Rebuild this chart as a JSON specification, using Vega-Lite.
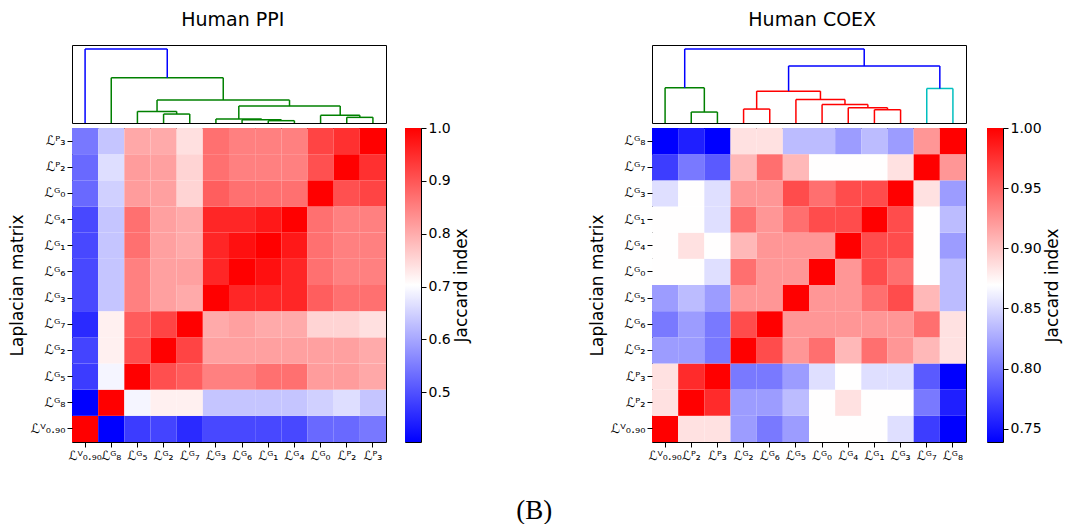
{
  "$schema": "https://vega.github.io/schema/vega-lite/v6.json",
  "padding": {"left": 7, "top": 10, "right": 5, "bottom": 0},
  "background": "white",
  "config": {
    "font": "DejaVu Sans",
    "view": {"stroke": "black", "strokeWidth": 1},
    "axis": {"labelColor": "black", "tickColor": "black", "titleColor": "black", "domain": false, "grid": false, "titleFontWeight": "normal", "labelFontSize": 13, "titleFontSize": 17, "tickSize": 5, "labelPadding": 2, "labelFont": "DejaVu Sans", "titleFont": "DejaVu Sans"},
    "axisRight": {"labelFontSize": 14},
    "title": {"fontWeight": "normal", "color": "black", "font": "DejaVu Sans"}
  },
  "title": {"text": "(B)", "orient": "bottom", "font": "Liberation Serif", "fontSize": 27, "offset": 36, "anchor": "middle"},
  "spacing": 117,
  "resolve": {"scale": {"color": "independent", "x": "independent", "y": "independent"}},
  "hconcat": [
    {
      "title": {"text": "Human PPI", "fontSize": 19, "offset": 15, "anchor": "middle", "dx": -6},
      "spacing": 17,
      "resolve": {"scale": {"color": "independent", "x": "independent", "y": "independent"}},
      "hconcat": [
        {
          "spacing": 5,
          "bounds": "flush",
          "resolve": {"scale": {"color": "independent", "x": "independent", "y": "independent"}},
          "vconcat": [
            {
              "width": 314, "height": 78,
              "data": {"values": [
                {"x1": 3.5, "y1": 0, "x2": 3.5, "y2": 27, "c": "g"},
                {"x1": 3.5, "y1": 27, "x2": 4.5, "y2": 27, "c": "g"},
                {"x1": 4.5, "y1": 0, "x2": 4.5, "y2": 27, "c": "g"},
                {"x1": 2.5, "y1": 0, "x2": 2.5, "y2": 35, "c": "g"},
                {"x1": 2.5, "y1": 35, "x2": 4.0, "y2": 35, "c": "g"},
                {"x1": 4.0, "y1": 27, "x2": 4.0, "y2": 35, "c": "g"},
                {"x1": 7.5, "y1": 0, "x2": 7.5, "y2": 7, "c": "g"},
                {"x1": 7.5, "y1": 7, "x2": 8.5, "y2": 7, "c": "g"},
                {"x1": 8.5, "y1": 0, "x2": 8.5, "y2": 7, "c": "g"},
                {"x1": 6.5, "y1": 0, "x2": 6.5, "y2": 10, "c": "g"},
                {"x1": 6.5, "y1": 10, "x2": 8.0, "y2": 10, "c": "g"},
                {"x1": 8.0, "y1": 7, "x2": 8.0, "y2": 10, "c": "g"},
                {"x1": 5.5, "y1": 0, "x2": 5.5, "y2": 12, "c": "g"},
                {"x1": 5.5, "y1": 12, "x2": 7.25, "y2": 12, "c": "g"},
                {"x1": 7.25, "y1": 10, "x2": 7.25, "y2": 12, "c": "g"},
                {"x1": 10.5, "y1": 0, "x2": 10.5, "y2": 17, "c": "g"},
                {"x1": 10.5, "y1": 17, "x2": 11.5, "y2": 17, "c": "g"},
                {"x1": 11.5, "y1": 0, "x2": 11.5, "y2": 17, "c": "g"},
                {"x1": 9.5, "y1": 0, "x2": 9.5, "y2": 23, "c": "g"},
                {"x1": 9.5, "y1": 23, "x2": 11.0, "y2": 23, "c": "g"},
                {"x1": 11.0, "y1": 17, "x2": 11.0, "y2": 23, "c": "g"},
                {"x1": 6.375, "y1": 12, "x2": 6.375, "y2": 51, "c": "g"},
                {"x1": 6.375, "y1": 51, "x2": 10.25, "y2": 51, "c": "g"},
                {"x1": 10.25, "y1": 23, "x2": 10.25, "y2": 51, "c": "g"},
                {"x1": 3.25, "y1": 35, "x2": 3.25, "y2": 69, "c": "g"},
                {"x1": 3.25, "y1": 69, "x2": 8.3125, "y2": 69, "c": "g"},
                {"x1": 8.3125, "y1": 51, "x2": 8.3125, "y2": 69, "c": "g"},
                {"x1": 1.5, "y1": 0, "x2": 1.5, "y2": 136, "c": "g"},
                {"x1": 1.5, "y1": 136, "x2": 5.78, "y2": 136, "c": "g"},
                {"x1": 5.78, "y1": 69, "x2": 5.78, "y2": 136, "c": "g"},
                {"x1": 0.5, "y1": 0, "x2": 0.5, "y2": 223, "c": "b"},
                {"x1": 0.5, "y1": 223, "x2": 3.64, "y2": 223, "c": "b"},
                {"x1": 3.64, "y1": 136, "x2": 3.64, "y2": 223, "c": "b"}
              ]},
              "mark": {"type": "rule", "strokeWidth": 1.5},
              "encoding": {
                "x": {"field": "x1", "type": "quantitative", "scale": {"domain": [0, 12], "nice": false, "zero": false}, "axis": null},
                "x2": {"field": "x2"},
                "y": {"field": "y1", "type": "quantitative", "scale": {"domain": [0, 235], "nice": false}, "axis": null},
                "y2": {"field": "y2"},
                "color": {"field": "c", "type": "nominal", "scale": {"domain": ["b", "g", "r", "c"], "range": ["#0000ff", "#008000", "#ff0000", "#00bfbf"]}, "legend": null}
              }
            },
            {
              "width": 314, "height": 314,
              "data": {"values": [
                {"r":"V","c":"V","v":1},{"r":"V","c":"G8","v":0.406},{"r":"V","c":"G5","v":0.476},{"r":"V","c":"G2","v":0.485},{"r":"V","c":"G7","v":0.455},{"r":"V","c":"G3","v":0.49},{"r":"V","c":"G6","v":0.49},{"r":"V","c":"G1","v":0.49},{"r":"V","c":"G4","v":0.49},{"r":"V","c":"G0","v":0.528},{"r":"V","c":"P2","v":0.528},{"r":"V","c":"P3","v":0.546},
                {"r":"G8","c":"V","v":0.406},{"r":"G8","c":"G8","v":1},{"r":"G8","c":"G5","v":0.691},{"r":"G8","c":"G2","v":0.72},{"r":"G8","c":"G7","v":0.72},{"r":"G8","c":"G3","v":0.635},{"r":"G8","c":"G6","v":0.635},{"r":"G8","c":"G1","v":0.635},{"r":"G8","c":"G4","v":0.635},{"r":"G8","c":"G0","v":0.648},{"r":"G8","c":"P2","v":0.665},{"r":"G8","c":"P3","v":0.635},
                {"r":"G5","c":"V","v":0.476},{"r":"G5","c":"G8","v":0.691},{"r":"G5","c":"G5","v":1},{"r":"G5","c":"G2","v":0.908},{"r":"G5","c":"G7","v":0.893},{"r":"G5","c":"G3","v":0.851},{"r":"G5","c":"G6","v":0.851},{"r":"G5","c":"G1","v":0.869},{"r":"G5","c":"G4","v":0.869},{"r":"G5","c":"G0","v":0.818},{"r":"G5","c":"P2","v":0.818},{"r":"G5","c":"P3","v":0.804},
                {"r":"G2","c":"V","v":0.485},{"r":"G2","c":"G8","v":0.72},{"r":"G2","c":"G5","v":0.908},{"r":"G2","c":"G2","v":1},{"r":"G2","c":"G7","v":0.921},{"r":"G2","c":"G3","v":0.814},{"r":"G2","c":"G6","v":0.814},{"r":"G2","c":"G1","v":0.814},{"r":"G2","c":"G4","v":0.814},{"r":"G2","c":"G0","v":0.814},{"r":"G2","c":"P2","v":0.814},{"r":"G2","c":"P3","v":0.802},
                {"r":"G7","c":"V","v":0.455},{"r":"G7","c":"G8","v":0.72},{"r":"G7","c":"G5","v":0.893},{"r":"G7","c":"G2","v":0.921},{"r":"G7","c":"G7","v":1},{"r":"G7","c":"G3","v":0.802},{"r":"G7","c":"G6","v":0.814},{"r":"G7","c":"G1","v":0.802},{"r":"G7","c":"G4","v":0.802},{"r":"G7","c":"G0","v":0.753},{"r":"G7","c":"P2","v":0.753},{"r":"G7","c":"P3","v":0.739},
                {"r":"G3","c":"V","v":0.49},{"r":"G3","c":"G8","v":0.635},{"r":"G3","c":"G5","v":0.851},{"r":"G3","c":"G2","v":0.814},{"r":"G3","c":"G7","v":0.802},{"r":"G3","c":"G3","v":1},{"r":"G3","c":"G6","v":0.956},{"r":"G3","c":"G1","v":0.956},{"r":"G3","c":"G4","v":0.956},{"r":"G3","c":"G0","v":0.891},{"r":"G3","c":"P2","v":0.869},{"r":"G3","c":"P3","v":0.869},
                {"r":"G6","c":"V","v":0.49},{"r":"G6","c":"G8","v":0.635},{"r":"G6","c":"G5","v":0.851},{"r":"G6","c":"G2","v":0.814},{"r":"G6","c":"G7","v":0.814},{"r":"G6","c":"G3","v":0.956},{"r":"G6","c":"G6","v":1},{"r":"G6","c":"G1","v":0.981},{"r":"G6","c":"G4","v":0.956},{"r":"G6","c":"G0","v":0.869},{"r":"G6","c":"P2","v":0.851},{"r":"G6","c":"P3","v":0.851},
                {"r":"G1","c":"V","v":0.49},{"r":"G1","c":"G8","v":0.635},{"r":"G1","c":"G5","v":0.869},{"r":"G1","c":"G2","v":0.814},{"r":"G1","c":"G7","v":0.802},{"r":"G1","c":"G3","v":0.956},{"r":"G1","c":"G6","v":0.981},{"r":"G1","c":"G1","v":1},{"r":"G1","c":"G4","v":0.972},{"r":"G1","c":"G0","v":0.869},{"r":"G1","c":"P2","v":0.851},{"r":"G1","c":"P3","v":0.851},
                {"r":"G4","c":"V","v":0.49},{"r":"G4","c":"G8","v":0.635},{"r":"G4","c":"G5","v":0.869},{"r":"G4","c":"G2","v":0.814},{"r":"G4","c":"G7","v":0.802},{"r":"G4","c":"G3","v":0.956},{"r":"G4","c":"G6","v":0.956},{"r":"G4","c":"G1","v":0.972},{"r":"G4","c":"G4","v":1},{"r":"G4","c":"G0","v":0.869},{"r":"G4","c":"P2","v":0.851},{"r":"G4","c":"P3","v":0.851},
                {"r":"G0","c":"V","v":0.528},{"r":"G0","c":"G8","v":0.648},{"r":"G0","c":"G5","v":0.818},{"r":"G0","c":"G2","v":0.814},{"r":"G0","c":"G7","v":0.753},{"r":"G0","c":"G3","v":0.891},{"r":"G0","c":"G6","v":0.869},{"r":"G0","c":"G1","v":0.869},{"r":"G0","c":"G4","v":0.869},{"r":"G0","c":"G0","v":1},{"r":"G0","c":"P2","v":0.907},{"r":"G0","c":"P3","v":0.921},
                {"r":"P2","c":"V","v":0.528},{"r":"P2","c":"G8","v":0.665},{"r":"P2","c":"G5","v":0.818},{"r":"P2","c":"G2","v":0.814},{"r":"P2","c":"G7","v":0.753},{"r":"P2","c":"G3","v":0.869},{"r":"P2","c":"G6","v":0.851},{"r":"P2","c":"G1","v":0.851},{"r":"P2","c":"G4","v":0.851},{"r":"P2","c":"G0","v":0.907},{"r":"P2","c":"P2","v":1},{"r":"P2","c":"P3","v":0.944},
                {"r":"P3","c":"V","v":0.546},{"r":"P3","c":"G8","v":0.635},{"r":"P3","c":"G5","v":0.804},{"r":"P3","c":"G2","v":0.802},{"r":"P3","c":"G7","v":0.739},{"r":"P3","c":"G3","v":0.869},{"r":"P3","c":"G6","v":0.851},{"r":"P3","c":"G1","v":0.851},{"r":"P3","c":"G4","v":0.851},{"r":"P3","c":"G0","v":0.921},{"r":"P3","c":"P2","v":0.944},{"r":"P3","c":"P3","v":1}
              ]},
              "mark": "rect",
              "encoding": {
                "x": {"field": "c", "type": "nominal", "sort": ["V","G8","G5","G2","G7","G3","G6","G1","G4","G0","P2","P3"], "axis": {"title": null, "labelAngle": 0, "labelFontSize": 12.5, "labelExpr": "'ℒ' + (datum.value == 'V' ? 'ⱽ₀.₉₀' : (slice(datum.value,0,1) == 'G' ? 'ᴳ' : 'ᴾ') + ['₀','₁','₂','₃','₄','₅','₆','₇','₈','₉'][toNumber(slice(datum.value,1))])"}},
                "y": {"field": "r", "type": "nominal", "sort": ["P3","P2","G0","G4","G1","G6","G3","G7","G2","G5","G8","V"], "axis": {"title": "Laplacian matrix", "titlePadding": 4, "labelExpr": "'ℒ' + (datum.value == 'V' ? 'ⱽ₀.₉₀' : (slice(datum.value,0,1) == 'G' ? 'ᴳ' : 'ᴾ') + ['₀','₁','₂','₃','₄','₅','₆','₇','₈','₉'][toNumber(slice(datum.value,1))])"}},
                "color": {"field": "v", "type": "quantitative", "scale": {"domain": [0.406, 0.703, 1.0], "range": ["#0000ff", "#ffffff", "#ff0000"], "interpolate": "rgb"}, "legend": null}
              }
            }
          ]
        },
        {
          "spacing": 5,
          "bounds": "flush",
          "resolve": {"scale": {"color": "independent", "x": "independent", "y": "independent"}},
          "vconcat": [
            {
              "width": 16, "height": 78,
              "view": {"stroke": null},
              "data": {"values": [{"a": 0}]},
              "mark": {"type": "point", "opacity": 0},
              "encoding": {}
            },
            {
              "width": 16, "height": 314,
              "data": {"values": [{"lo": 0.406, "hi": 1.0, "a": 0, "b": 1}]},
              "mark": {"type": "rect", "color": {"gradient": "linear", "x1": 0, "y1": 0, "x2": 0, "y2": 1, "stops": [{"offset": 0, "color": "#ff0000"}, {"offset": 0.5, "color": "#ffffff"}, {"offset": 1, "color": "#0000ff"}]}},
              "encoding": {
                "x": {"field": "a", "type": "quantitative", "scale": {"domain": [0, 1], "nice": false}, "axis": null},
                "x2": {"field": "b"},
                "y": {"field": "lo", "type": "quantitative", "scale": {"domain": [0.406, 1.0], "nice": false, "zero": false}, "axis": {"orient": "right", "values": [0.5, 0.6, 0.7, 0.8, 0.9, 1.0], "format": ".1f", "title": "Jaccard index", "titleAngle": 270, "titleBaseline": "top", "titlePadding": 3}},
                "y2": {"field": "hi"}
              }
            }
          ]
        }
      ]
    },
    {
      "title": {"text": "Human COEX", "fontSize": 19, "offset": 15, "anchor": "middle", "dx": -12},
      "spacing": 19,
      "resolve": {"scale": {"color": "independent", "x": "independent", "y": "independent"}},
      "hconcat": [
        {
          "spacing": 5,
          "bounds": "flush",
          "resolve": {"scale": {"color": "independent", "x": "independent", "y": "independent"}},
          "vconcat": [
            {
              "width": 314, "height": 78,
              "data": {"values": [
                {"x1": 1.5, "y1": 0, "x2": 1.5, "y2": 33, "c": "g"},
                {"x1": 1.5, "y1": 33, "x2": 2.5, "y2": 33, "c": "g"},
                {"x1": 2.5, "y1": 0, "x2": 2.5, "y2": 33, "c": "g"},
                {"x1": 0.5, "y1": 0, "x2": 0.5, "y2": 106, "c": "g"},
                {"x1": 0.5, "y1": 106, "x2": 2.0, "y2": 106, "c": "g"},
                {"x1": 2.0, "y1": 33, "x2": 2.0, "y2": 106, "c": "g"},
                {"x1": 3.5, "y1": 0, "x2": 3.5, "y2": 42, "c": "r"},
                {"x1": 3.5, "y1": 42, "x2": 4.5, "y2": 42, "c": "r"},
                {"x1": 4.5, "y1": 0, "x2": 4.5, "y2": 42, "c": "r"},
                {"x1": 8.5, "y1": 0, "x2": 8.5, "y2": 40, "c": "r"},
                {"x1": 8.5, "y1": 40, "x2": 9.5, "y2": 40, "c": "r"},
                {"x1": 9.5, "y1": 0, "x2": 9.5, "y2": 40, "c": "r"},
                {"x1": 7.5, "y1": 0, "x2": 7.5, "y2": 46, "c": "r"},
                {"x1": 7.5, "y1": 46, "x2": 9.0, "y2": 46, "c": "r"},
                {"x1": 9.0, "y1": 40, "x2": 9.0, "y2": 46, "c": "r"},
                {"x1": 6.5, "y1": 0, "x2": 6.5, "y2": 56, "c": "r"},
                {"x1": 6.5, "y1": 56, "x2": 8.25, "y2": 56, "c": "r"},
                {"x1": 8.25, "y1": 46, "x2": 8.25, "y2": 56, "c": "r"},
                {"x1": 5.5, "y1": 0, "x2": 5.5, "y2": 71, "c": "r"},
                {"x1": 5.5, "y1": 71, "x2": 7.375, "y2": 71, "c": "r"},
                {"x1": 7.375, "y1": 56, "x2": 7.375, "y2": 71, "c": "r"},
                {"x1": 4.0, "y1": 42, "x2": 4.0, "y2": 96, "c": "r"},
                {"x1": 4.0, "y1": 96, "x2": 6.4375, "y2": 96, "c": "r"},
                {"x1": 6.4375, "y1": 71, "x2": 6.4375, "y2": 96, "c": "r"},
                {"x1": 10.5, "y1": 0, "x2": 10.5, "y2": 104, "c": "c"},
                {"x1": 10.5, "y1": 104, "x2": 11.5, "y2": 104, "c": "c"},
                {"x1": 11.5, "y1": 0, "x2": 11.5, "y2": 104, "c": "c"},
                {"x1": 5.22, "y1": 96, "x2": 5.22, "y2": 172, "c": "b"},
                {"x1": 5.22, "y1": 172, "x2": 11.0, "y2": 172, "c": "b"},
                {"x1": 11.0, "y1": 104, "x2": 11.0, "y2": 172, "c": "b"},
                {"x1": 1.25, "y1": 106, "x2": 1.25, "y2": 223, "c": "b"},
                {"x1": 1.25, "y1": 223, "x2": 8.11, "y2": 223, "c": "b"},
                {"x1": 8.11, "y1": 172, "x2": 8.11, "y2": 223, "c": "b"}
              ]},
              "mark": {"type": "rule", "strokeWidth": 1.5},
              "encoding": {
                "x": {"field": "x1", "type": "quantitative", "scale": {"domain": [0, 12], "nice": false, "zero": false}, "axis": null},
                "x2": {"field": "x2"},
                "y": {"field": "y1", "type": "quantitative", "scale": {"domain": [0, 235], "nice": false}, "axis": null},
                "y2": {"field": "y2"},
                "color": {"field": "c", "type": "nominal", "scale": {"domain": ["b", "g", "r", "c"], "range": ["#0000ff", "#008000", "#ff0000", "#00bfbf"]}, "legend": null}
              }
            },
            {
              "width": 314, "height": 314,
              "data": {"values": [
                {"r":"V","c":"V","v":1},{"r":"V","c":"P2","v":0.885},{"r":"V","c":"P3","v":0.885},{"r":"V","c":"G2","v":0.819},{"r":"V","c":"G6","v":0.801},{"r":"V","c":"G5","v":0.819},{"r":"V","c":"G0","v":0.87},{"r":"V","c":"G4","v":0.87},{"r":"V","c":"G1","v":0.87},{"r":"V","c":"G3","v":0.853},{"r":"V","c":"G7","v":0.77},{"r":"V","c":"G8","v":0.739},
                {"r":"P2","c":"V","v":0.885},{"r":"P2","c":"P2","v":1},{"r":"P2","c":"P3","v":0.978},{"r":"P2","c":"G2","v":0.819},{"r":"P2","c":"G6","v":0.819},{"r":"P2","c":"G5","v":0.835},{"r":"P2","c":"G0","v":0.87},{"r":"P2","c":"G4","v":0.885},{"r":"P2","c":"G1","v":0.87},{"r":"P2","c":"G3","v":0.87},{"r":"P2","c":"G7","v":0.801},{"r":"P2","c":"G8","v":0.755},
                {"r":"P3","c":"V","v":0.885},{"r":"P3","c":"P2","v":0.978},{"r":"P3","c":"P3","v":1},{"r":"P3","c":"G2","v":0.801},{"r":"P3","c":"G6","v":0.801},{"r":"P3","c":"G5","v":0.819},{"r":"P3","c":"G0","v":0.853},{"r":"P3","c":"G4","v":0.87},{"r":"P3","c":"G1","v":0.853},{"r":"P3","c":"G3","v":0.853},{"r":"P3","c":"G7","v":0.785},{"r":"P3","c":"G8","v":0.739},
                {"r":"G2","c":"V","v":0.819},{"r":"G2","c":"P2","v":0.819},{"r":"G2","c":"P3","v":0.801},{"r":"G2","c":"G2","v":1},{"r":"G2","c":"G6","v":0.961},{"r":"G2","c":"G5","v":0.923},{"r":"G2","c":"G0","v":0.943},{"r":"G2","c":"G4","v":0.906},{"r":"G2","c":"G1","v":0.943},{"r":"G2","c":"G3","v":0.923},{"r":"G2","c":"G7","v":0.906},{"r":"G2","c":"G8","v":0.885},
                {"r":"G6","c":"V","v":0.801},{"r":"G6","c":"P2","v":0.819},{"r":"G6","c":"P3","v":0.801},{"r":"G6","c":"G2","v":0.961},{"r":"G6","c":"G6","v":1},{"r":"G6","c":"G5","v":0.923},{"r":"G6","c":"G0","v":0.923},{"r":"G6","c":"G4","v":0.923},{"r":"G6","c":"G1","v":0.923},{"r":"G6","c":"G3","v":0.923},{"r":"G6","c":"G7","v":0.943},{"r":"G6","c":"G8","v":0.885},
                {"r":"G5","c":"V","v":0.819},{"r":"G5","c":"P2","v":0.835},{"r":"G5","c":"P3","v":0.819},{"r":"G5","c":"G2","v":0.923},{"r":"G5","c":"G6","v":0.923},{"r":"G5","c":"G5","v":1},{"r":"G5","c":"G0","v":0.923},{"r":"G5","c":"G4","v":0.923},{"r":"G5","c":"G1","v":0.943},{"r":"G5","c":"G3","v":0.961},{"r":"G5","c":"G7","v":0.906},{"r":"G5","c":"G8","v":0.835},
                {"r":"G0","c":"V","v":0.87},{"r":"G0","c":"P2","v":0.87},{"r":"G0","c":"P3","v":0.853},{"r":"G0","c":"G2","v":0.943},{"r":"G0","c":"G6","v":0.923},{"r":"G0","c":"G5","v":0.923},{"r":"G0","c":"G0","v":1},{"r":"G0","c":"G4","v":0.923},{"r":"G0","c":"G1","v":0.961},{"r":"G0","c":"G3","v":0.943},{"r":"G0","c":"G7","v":0.87},{"r":"G0","c":"G8","v":0.835},
                {"r":"G4","c":"V","v":0.87},{"r":"G4","c":"P2","v":0.885},{"r":"G4","c":"P3","v":0.87},{"r":"G4","c":"G2","v":0.906},{"r":"G4","c":"G6","v":0.923},{"r":"G4","c":"G5","v":0.923},{"r":"G4","c":"G0","v":0.923},{"r":"G4","c":"G4","v":1},{"r":"G4","c":"G1","v":0.961},{"r":"G4","c":"G3","v":0.961},{"r":"G4","c":"G7","v":0.87},{"r":"G4","c":"G8","v":0.819},
                {"r":"G1","c":"V","v":0.87},{"r":"G1","c":"P2","v":0.87},{"r":"G1","c":"P3","v":0.853},{"r":"G1","c":"G2","v":0.943},{"r":"G1","c":"G6","v":0.923},{"r":"G1","c":"G5","v":0.943},{"r":"G1","c":"G0","v":0.961},{"r":"G1","c":"G4","v":0.961},{"r":"G1","c":"G1","v":1},{"r":"G1","c":"G3","v":0.961},{"r":"G1","c":"G7","v":0.87},{"r":"G1","c":"G8","v":0.835},
                {"r":"G3","c":"V","v":0.853},{"r":"G3","c":"P2","v":0.87},{"r":"G3","c":"P3","v":0.853},{"r":"G3","c":"G2","v":0.923},{"r":"G3","c":"G6","v":0.923},{"r":"G3","c":"G5","v":0.961},{"r":"G3","c":"G0","v":0.943},{"r":"G3","c":"G4","v":0.961},{"r":"G3","c":"G1","v":0.961},{"r":"G3","c":"G3","v":1},{"r":"G3","c":"G7","v":0.885},{"r":"G3","c":"G8","v":0.819},
                {"r":"G7","c":"V","v":0.77},{"r":"G7","c":"P2","v":0.801},{"r":"G7","c":"P3","v":0.785},{"r":"G7","c":"G2","v":0.906},{"r":"G7","c":"G6","v":0.943},{"r":"G7","c":"G5","v":0.906},{"r":"G7","c":"G0","v":0.87},{"r":"G7","c":"G4","v":0.87},{"r":"G7","c":"G1","v":0.87},{"r":"G7","c":"G3","v":0.885},{"r":"G7","c":"G7","v":1},{"r":"G7","c":"G8","v":0.923},
                {"r":"G8","c":"V","v":0.739},{"r":"G8","c":"P2","v":0.755},{"r":"G8","c":"P3","v":0.739},{"r":"G8","c":"G2","v":0.885},{"r":"G8","c":"G6","v":0.885},{"r":"G8","c":"G5","v":0.835},{"r":"G8","c":"G0","v":0.835},{"r":"G8","c":"G4","v":0.819},{"r":"G8","c":"G1","v":0.835},{"r":"G8","c":"G3","v":0.819},{"r":"G8","c":"G7","v":0.923},{"r":"G8","c":"G8","v":1}
              ]},
              "mark": "rect",
              "encoding": {
                "x": {"field": "c", "type": "nominal", "sort": ["V","P2","P3","G2","G6","G5","G0","G4","G1","G3","G7","G8"], "axis": {"title": null, "labelAngle": 0, "labelFontSize": 12.5, "labelExpr": "'ℒ' + (datum.value == 'V' ? 'ⱽ₀.₉₀' : (slice(datum.value,0,1) == 'G' ? 'ᴳ' : 'ᴾ') + ['₀','₁','₂','₃','₄','₅','₆','₇','₈','₉'][toNumber(slice(datum.value,1))])"}},
                "y": {"field": "r", "type": "nominal", "sort": ["G8","G7","G3","G1","G4","G0","G5","G6","G2","P3","P2","V"], "axis": {"title": "Laplacian matrix", "titlePadding": 4, "labelExpr": "'ℒ' + (datum.value == 'V' ? 'ⱽ₀.₉₀' : (slice(datum.value,0,1) == 'G' ? 'ᴳ' : 'ᴾ') + ['₀','₁','₂','₃','₄','₅','₆','₇','₈','₉'][toNumber(slice(datum.value,1))])"}},
                "color": {"field": "v", "type": "quantitative", "scale": {"domain": [0.739, 0.8695, 1.0], "range": ["#0000ff", "#ffffff", "#ff0000"], "interpolate": "rgb"}, "legend": null}
              }
            }
          ]
        },
        {
          "spacing": 5,
          "bounds": "flush",
          "resolve": {"scale": {"color": "independent", "x": "independent", "y": "independent"}},
          "vconcat": [
            {
              "width": 16, "height": 78,
              "view": {"stroke": null},
              "data": {"values": [{"a": 0}]},
              "mark": {"type": "point", "opacity": 0},
              "encoding": {}
            },
            {
              "width": 16, "height": 314,
              "data": {"values": [{"lo": 0.739, "hi": 1.0, "a": 0, "b": 1}]},
              "mark": {"type": "rect", "color": {"gradient": "linear", "x1": 0, "y1": 0, "x2": 0, "y2": 1, "stops": [{"offset": 0, "color": "#ff0000"}, {"offset": 0.5, "color": "#ffffff"}, {"offset": 1, "color": "#0000ff"}]}},
              "encoding": {
                "x": {"field": "a", "type": "quantitative", "scale": {"domain": [0, 1], "nice": false}, "axis": null},
                "x2": {"field": "b"},
                "y": {"field": "lo", "type": "quantitative", "scale": {"domain": [0.739, 1.0], "nice": false, "zero": false}, "axis": {"orient": "right", "values": [0.75, 0.8, 0.85, 0.9, 0.95, 1.0], "format": ".2f", "title": "Jaccard index", "titleAngle": 270, "titleBaseline": "top", "titlePadding": 3}},
                "y2": {"field": "hi"}
              }
            }
          ]
        }
      ]
    }
  ]
}
